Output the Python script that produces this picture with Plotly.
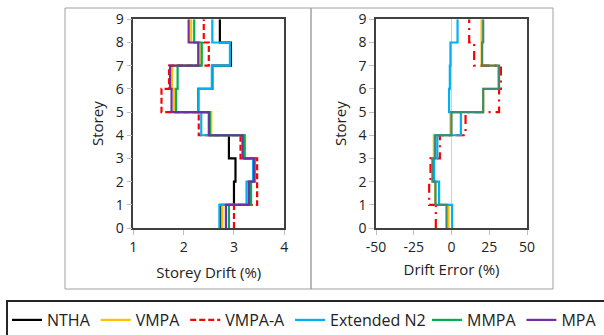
import plotly.graph_objects as go

# ---------------- data ----------------
storeys = [0, 1, 2, 3, 4, 5, 6, 7, 8, 9]
storey_ticks = [0, 1, 2, 3, 4, 5, 6, 7, 8, 9]

# Storey drift (%) for storeys 1..9
drift_ntha = [2.73, 3.00, 3.03, 2.90, 2.53, 2.29, 2.57, 2.94, 2.72]
drift_vmpa = [2.77, 3.28, 3.42, 3.22, 2.55, 1.81, 1.77, 2.32, 2.15]
drift_vmpa_a = [3.00, 3.46, 3.46, 3.13, 2.30, 1.56, 1.71, 2.50, 2.40]
drift_ext_n2 = [2.71, 3.25, 3.38, 3.20, 2.35, 2.29, 2.56, 2.92, 2.57]
drift_mmpa = [2.90, 3.34, 3.41, 3.21, 2.52, 1.85, 1.88, 2.36, 2.21]
drift_mpa = [2.84, 3.30, 3.40, 3.17, 2.50, 1.76, 1.73, 2.29, 2.10]

# Drift error (%) for storeys 1..9
err_vmpa = [-2.0, -10.8, -12.4, -11.7, -0.7, 21.0, 30.9, 19.9, 19.9]
err_vmpa_a = [-10.4, -14.8, -13.9, -7.7, 9.3, 31.5, 32.7, 15.0, 11.7]
err_ext_n2 = [0.4, -8.2, -11.5, -9.4, 6.2, -1.6, -1.1, -0.7, 4.0]
err_mmpa = [-3.3, -10.6, -12.6, -10.9, 0.0, 21.0, 31.5, 20.3, 21.0]

drift_ticks = [1, 2, 3, 4]
err_tickvals = [-50, -25, 0, 25, 50]
err_ticktext = ["-50", "-25", "0", "25", "50"]

# ---------------- styling ----------------
W, H = 604, 335
FONT = "Open Sans"
C_NTHA = "#000000"
C_VMPA = "#FFC000"
C_VMPA_A = "#FF0000"
C_EXT = "#00B0F0"
C_MMPA = "#00B050"
C_MPA = "#7030A0"
C_MMPA_ERR = "#3F8A72"


def step(vals):
    return list(vals) + [vals[-1]]


fig = go.Figure()

left = [
    ("NTHA", drift_ntha, C_NTHA, "solid", "legend"),
    ("VMPA", drift_vmpa, C_VMPA, "solid", "legend"),
    ("VMPA-A", drift_vmpa_a, C_VMPA_A, "6px,3px", "legend"),
    ("Extended N2", drift_ext_n2, C_EXT, "solid", "legend"),
    ("MMPA", drift_mmpa, C_MMPA, "solid", "legend2"),
    ("MPA", drift_mpa, C_MPA, "solid", "legend2"),
]
for name, vals, col, dash, leg in left:
    fig.add_trace(go.Scatter(
        x=step(vals), y=storeys, mode="lines", name=name,
        line=dict(color=col, width=2.2, dash=dash, shape="vh"),
        xaxis="x", yaxis="y", showlegend=True, legend=leg))

right = [
    ("VMPA", err_vmpa, C_VMPA, "solid"),
    ("VMPA-A", err_vmpa_a, C_VMPA_A, "9px,5px,2px,5px"),
    ("Extended N2", err_ext_n2, C_EXT, "solid"),
    ("MMPA", err_mmpa, C_MMPA_ERR, "solid"),
]
for name, vals, col, dash in right:
    fig.add_trace(go.Scatter(
        x=step(vals), y=storeys, mode="lines", name=name,
        line=dict(color=col, width=2.2, dash=dash, shape="vh"),
        xaxis="x2", yaxis="y2", showlegend=False))

plot_bottom = 228.0
plot_top = 19.3
ydom = [(H - plot_bottom) / H, (H - plot_top) / H]

axis_common = dict(
    showgrid=False, showline=True, linecolor="#404040", linewidth=1.5,
    mirror=True, ticks="outside", ticklen=5, tickcolor="#bfbfbf",
    tickfont=dict(family=FONT, size=14, color="#222222"),
    automargin=False,
)

legend_common = dict(
    orientation="h", xanchor="left", y=(H - 320) / H, yanchor="middle",
    font=dict(family=FONT, size=16, color="#222222"),
    bgcolor="rgba(0,0,0,0)", borderwidth=0, tracegroupgap=0,
)

fig.update_layout(
    width=W, height=H, autosize=False,
    margin=dict(l=0, r=0, t=0, b=0, autoexpand=False),
    paper_bgcolor="white", plot_bgcolor="white",
    font=dict(family=FONT, color="#222222"),
    xaxis=dict(domain=[133.3 / W, 284.3 / W], range=[1, 4], tickvals=drift_ticks,
               zeroline=False, anchor="y",
               title=dict(text="Storey Drift (%)", font=dict(size=15), standoff=13),
               **axis_common),
    yaxis=dict(domain=ydom, range=[0, 9], tickvals=storey_ticks, zeroline=False,
               anchor="x",
               title=dict(text="Storey", font=dict(size=15), standoff=8),
               **axis_common),
    xaxis2=dict(domain=[376.0 / W, 527.0 / W], range=[-50, 50],
                tickvals=err_tickvals, ticktext=err_ticktext,
                zeroline=True, zerolinecolor="#d0d0d0", zerolinewidth=1,
                anchor="y2",
                title=dict(text="Drift Error (%)", font=dict(size=15), standoff=10),
                **axis_common),
    yaxis2=dict(domain=ydom, range=[0, 9], tickvals=storey_ticks, zeroline=False,
                anchor="x2",
                title=dict(text="Storey", font=dict(size=15), standoff=8),
                **axis_common),
    legend=dict(x=7 / W, **legend_common),
    legend2=dict(x=427 / W, **legend_common),
)

# outer chart boxes and legend frame
fig.add_shape(type="rect", xref="paper", yref="paper",
              x0=65 / W, x1=311 / W, y0=(H - 289) / H, y1=(H - 8) / H,
              line=dict(color="#a0a0a0", width=1), layer="below")
fig.add_shape(type="rect", xref="paper", yref="paper",
              x0=311 / W, x1=553 / W, y0=(H - 289) / H, y1=(H - 8) / H,
              line=dict(color="#a0a0a0", width=1), layer="below")
fig.add_shape(type="rect", xref="paper", yref="paper",
              x0=7 / W, x1=620 / W, y0=-20 / H, y1=(H - 301) / H,
              line=dict(color="#262626", width=2), layer="below")

fig.write_html(
    "out.html",
    config={"displayModeBar": False},
    post_script="document.body.style.margin='0px';document.body.style.overflow='hidden';",
)
